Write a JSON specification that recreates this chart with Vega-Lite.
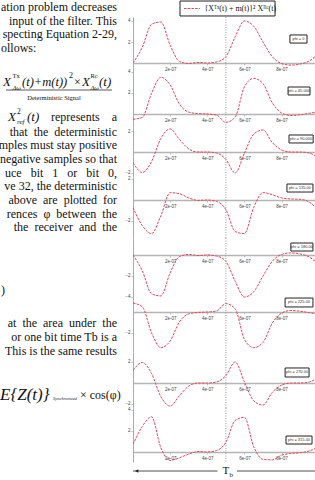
{
"$schema": "https://vega.github.io/schema/vega-lite/v6.json",
"padding": 0,
"bounds": "flush",
"spacing": 13,
"datasets": {
"curves": [
{"t":0,"p0":0,"p45":-0.5,"p90":-1.0,"p135":-0.71,"p180":0,"p225":0.85,"p270":1.2,"p315":0.71},
{"t":0.5,"p0":1.5,"p45":-0.32,"p90":-1.95,"p135":-2.44,"p180":-1.5,"p225":0.5,"p270":1.95,"p315":2.44},
{"t":1,"p0":3.7,"p45":1.98,"p90":-0.9,"p135":-3.2,"p180":-3.7,"p225":-1.98,"p270":0.9,"p315":3.35},
{"t":1.5,"p0":3.9,"p45":3.5,"p90":1.3,"p135":-1.5,"p180":-3.9,"p225":-3.4,"p270":-1.3,"p315":0.4},
{"t":2,"p0":1.7,"p45":2.76,"p90":2.2,"p135":0.7,"p180":-1.7,"p225":-2.76,"p270":-2.2,"p315":-0.8},
{"t":2.5,"p0":0.15,"p45":0.95,"p90":1.2,"p135":0.6,"p180":-0.15,"p225":-0.95,"p270":-1.2,"p315":-0.55},
{"t":3,"p0":-0.05,"p45":0.18,"p90":0.3,"p135":0.2,"p180":0.05,"p225":-0.18,"p270":-0.3,"p315":-0.2},
{"t":3.5,"p0":0.05,"p45":0.04,"p90":0,"p135":-0.04,"p180":-0.05,"p225":-0.04,"p270":0,"p315":0.04},
{"t":4,"p0":0,"p45":0,"p90":0,"p135":0,"p180":0,"p225":0,"p270":0,"p315":0},
{"t":4.5,"p0":0.1,"p45":-0.1,"p90":-0.1,"p135":-0.14,"p180":-0.1,"p225":0.1,"p270":0.1,"p315":0.14},
{"t":5,"p0":0.6,"p45":-0.8,"p90":-0.7,"p135":-0.92,"p180":-0.6,"p225":0.8,"p270":0.7,"p315":0.92},
{"t":5.5,"p0":2.5,"p45":-0.3,"p90":-2.0,"p135":-3.0,"p180":-2.5,"p225":0.3,"p270":2.0,"p315":3.0},
{"t":6,"p0":4.0,"p45":2.6,"p90":-0.1,"p135":-3.2,"p180":-4.0,"p225":-2.6,"p270":0.1,"p315":3.3},
{"t":6.5,"p0":3.5,"p45":3.4,"p90":1.7,"p135":-0.7,"p180":-3.5,"p225":-3.4,"p270":-1.7,"p315":0.5},
{"t":7,"p0":2.0,"p45":2.9,"p90":2.1,"p135":0.7,"p180":-2.0,"p225":-2.9,"p270":-2.1,"p315":-0.7},
{"t":7.5,"p0":0.6,"p45":1.06,"p90":0.9,"p135":0.5,"p180":-0.6,"p225":-1.06,"p270":-0.9,"p315":-0.75},
{"t":8,"p0":-0.05,"p45":0.1,"p90":0.2,"p135":0.2,"p180":0.05,"p225":-0.1,"p270":-0.2,"p315":-0.3},
{"t":8.5,"p0":-0.2,"p45":-0.14,"p90":0,"p135":0.1,"p180":0.2,"p225":0.14,"p270":0,"p315":-0.14},
{"t":9,"p0":-0.1,"p45":-0.07,"p90":0,"p135":0.07,"p180":0.1,"p225":0.07,"p270":0,"p315":-0.07},
{"t":9.5,"p0":0.2,"p45":0.07,"p90":-0.1,"p135":-0.21,"p180":-0.2,"p225":-0.07,"p270":0.1,"p315":0.1},
{"t":10,"p0":0.9,"p45":0.21,"p90":-0.6,"p135":-1.0,"p180":-0.9,"p225":-0.21,"p270":0.6,"p315":0.5}
]
},
"config": {
"view": {"stroke": null},
"text": {"font": "Liberation Serif", "baseline": "middle", "align": "left", "color": "#111"},
"axis": {"grid": false, "labelFont": "Liberation Sans", "labelFontSize": 4.5, "labelColor": "#444", "tickSize": 2, "tickColor": "#999", "tickWidth": 0.6, "domainColor": "#aaa", "domainWidth": 1, "labelPadding": 1}
},
"hconcat": [
{
"width": 120, "height": 480,
"layer": [
{"data": {"values": [
{"l":0.5,"s":"ation problem decreases"},
{"l":1.5,"s":"input of the filter. This"},
{"l":2.5,"s":"specting Equation 2-29,"},
{"l":8.54,"s":"represents\u00a0\u00a0\u00a0 a"},
{"l":9.6,"s":"that\u00a0 the\u00a0 deterministic"},
{"l":10.6,"s":"mples must stay positive"},
{"l":11.6,"s":"negative samples so that"},
{"l":12.6,"s":"uce\u2002 bit\u2002 1\u2002 or\u2002 bit\u2002 0,"},
{"l":13.6,"s":"ve 32, the deterministic"},
{"l":14.6,"s":"above\u00a0 are\u00a0 plotted\u00a0 for"},
{"l":15.6,"s":"rences\u00a0 \u03c6\u00a0 between\u00a0 the"},
{"l":16.6,"s":"the\u00a0 receiver\u00a0 and\u00a0 the"},
{"l":23.6,"s":"at\u00a0 the\u00a0 area\u00a0 under\u00a0 the"},
{"l":24.6,"s":"or one bit time Tb is a"},
{"l":25.6,"s":"This is the same results"}
]},
"mark": {"type": "text", "align": "right", "fontSize": 12, "clip": true},
"encoding": {
"x": {"datum": 117, "scale": {"domain": [0, 120], "nice": false, "zero": false}, "axis": null},
"y": {"field": "l", "type": "quantitative", "scale": {"domain": [0, 35.04], "reverse": true, "nice": false, "zero": false}, "axis": null},
"text": {"field": "s"}
}},
{"data": {"values": [{"l":3.5,"s":"ollows:"},{"l":21.2,"s":")"}]},
"mark": {"type": "text", "fontSize": 12, "clip": true},
"encoding": {"x": {"datum": 1, "axis": null}, "y": {"field": "l", "type": "quantitative", "axis": null}, "text": {"field": "s"}}},
{"data": {"values": [{}]}, "mark": {"type": "text", "text": "X", "fontSize": 13, "fontStyle": "italic"}, "encoding": {"x": {"datum": 3, "axis": null}, "y": {"datum": 6.0, "axis": null}}},
{"data": {"values": [{}]}, "mark": {"type": "text", "text": "Tx", "fontSize": 6.5}, "encoding": {"x": {"datum": 12.5, "axis": null}, "y": {"datum": 5.55, "axis": null}}},
{"data": {"values": [{}]}, "mark": {"type": "text", "text": "\u0394\u03c9", "fontSize": 6.5, "fontStyle": "italic"}, "encoding": {"x": {"datum": 12.5, "axis": null}, "y": {"datum": 6.4, "axis": null}}},
{"data": {"values": [{}]}, "mark": {"type": "text", "text": "(t)+m(t))", "fontSize": 12.5, "fontStyle": "italic"}, "encoding": {"x": {"datum": 22, "axis": null}, "y": {"datum": 6.0, "axis": null}}},
{"data": {"values": [{}]}, "mark": {"type": "text", "text": "2", "fontSize": 8}, "encoding": {"x": {"datum": 69, "axis": null}, "y": {"datum": 5.55, "axis": null}}},
{"data": {"values": [{}]}, "mark": {"type": "text", "text": "\u00d7", "fontSize": 12}, "encoding": {"x": {"datum": 74, "axis": null}, "y": {"datum": 6.0, "axis": null}}},
{"data": {"values": [{}]}, "mark": {"type": "text", "text": "X", "fontSize": 13, "fontStyle": "italic"}, "encoding": {"x": {"datum": 82, "axis": null}, "y": {"datum": 6.0, "axis": null}}},
{"data": {"values": [{}]}, "mark": {"type": "text", "text": "Rc", "fontSize": 6.5}, "encoding": {"x": {"datum": 90.5, "axis": null}, "y": {"datum": 5.55, "axis": null}}},
{"data": {"values": [{}]}, "mark": {"type": "text", "text": "\u0394\u03c9", "fontSize": 6.5, "fontStyle": "italic"}, "encoding": {"x": {"datum": 90.5, "axis": null}, "y": {"datum": 6.4, "axis": null}}},
{"data": {"values": [{}]}, "mark": {"type": "text", "text": "(t)", "fontSize": 13, "fontStyle": "italic"}, "encoding": {"x": {"datum": 99, "axis": null}, "y": {"datum": 6.0, "axis": null}}},
{"data": {"values": [{}]}, "mark": {"type": "rule", "color": "#111", "strokeWidth": 0.7}, "encoding": {"x": {"datum": 6, "axis": null}, "x2": {"datum": 112}, "y": {"datum": 6.57, "axis": null}}},
{"data": {"values": [{}]}, "mark": {"type": "text", "text": "Deterministic Signal", "fontSize": 6.5, "align": "center"}, "encoding": {"x": {"datum": 54, "axis": null}, "y": {"datum": 7.15, "axis": null}}},
{"data": {"values": [{}]}, "mark": {"type": "text", "text": "X", "fontSize": 13, "fontStyle": "italic"}, "encoding": {"x": {"datum": 8, "axis": null}, "y": {"datum": 8.54, "axis": null}}},
{"data": {"values": [{}]}, "mark": {"type": "text", "text": "2", "fontSize": 7.5}, "encoding": {"x": {"datum": 17, "axis": null}, "y": {"datum": 8.2, "axis": null}}},
{"data": {"values": [{}]}, "mark": {"type": "text", "text": "ref", "fontSize": 7, "fontStyle": "italic"}, "encoding": {"x": {"datum": 17, "axis": null}, "y": {"datum": 8.9, "axis": null}}},
{"data": {"values": [{}]}, "mark": {"type": "text", "text": "(t)", "fontSize": 13, "fontStyle": "italic"}, "encoding": {"x": {"datum": 27, "axis": null}, "y": {"datum": 8.54, "axis": null}}},
{"data": {"values": [{}]}, "mark": {"type": "text", "text": "E{Z(t)}", "fontSize": 17, "fontStyle": "italic"}, "encoding": {"x": {"datum": 0, "axis": null}, "y": {"datum": 28.8, "axis": null}}},
{"data": {"values": [{}]}, "mark": {"type": "text", "text": "Synchronized", "fontSize": 4.5, "fontStyle": "italic"}, "encoding": {"x": {"datum": 53, "axis": null}, "y": {"datum": 29.15, "axis": null}}},
{"data": {"values": [{}]}, "mark": {"type": "text", "text": "\u00d7 cos(\u03c6)", "fontSize": 12}, "encoding": {"x": {"datum": 80, "axis": null}, "y": {"datum": 28.8, "axis": null}}}
]
},
{
"spacing": 0,
"bounds": "flush",
"vconcat": [
{"width": 182, "height": 17, "layer": [
{"data": {"values": [{}]}, "mark": {"type": "rect", "fill": "#fff", "stroke": "#222", "strokeWidth": 1}, "encoding": {"x": {"datum": 2.53, "scale": {"domain": [0, 9.8], "nice": false, "zero": false}, "axis": null}, "x2": {"datum": 7.65}, "y": {"datum": 0.06, "scale": {"domain": [0, 1], "nice": false, "zero": false}, "axis": null}, "y2": {"datum": 0.94}}},
{"data": {"values": [{}]}, "mark": {"type": "rule", "color": "#e8435a", "strokeDash": [2.5, 1.2], "strokeWidth": 1}, "encoding": {"x": {"datum": 2.75, "axis": null}, "x2": {"datum": 3.6}, "y": {"datum": 0.5, "axis": null}}},
{"data": {"values": [{}]}, "mark": {"type": "text", "text": "{X\u1d40\u02e3(t) + m(t)}\u00b2 X\u1d3f\u1d9c(t)", "fontSize": 8}, "encoding": {"x": {"datum": 3.85, "axis": null}, "y": {"datum": 0.5, "axis": null}}}
]},
{"width": 182, "height": 50, "layer": [
{"data": {"name": "curves"}, "mark": {"type": "line", "color": "#e8435a", "strokeWidth": 1, "strokeDash": [2.5, 1.2], "interpolate": "monotone", "clip": true},
"encoding": {"x": {"field": "t", "type": "quantitative", "scale": {"domain": [0, 9.8], "nice": false, "zero": false}, "axis": {"title": null, "offset": -4, "values": [2, 4, 6, 8], "labelExpr": "datum.value + 'e-07'", "domainWidth": 1.5, "domainColor": "#b5b5b5"}},
"y": {"field": "p0", "type": "quantitative", "scale": {"domain": [-0.38, 4.38], "nice": false, "zero": false}, "axis": {"title": null, "values": [2, 4]}}}},
{"data": {"values": [{}]}, "mark": {"type": "rule", "color": "#888", "strokeDash": [1, 1.5], "strokeWidth": 0.8}, "encoding": {"x": {"datum": 5}}},
{"data": {"values": [{}]}, "mark": {"type": "rect", "fill": "#fff", "stroke": "#222", "strokeWidth": 1}, "encoding": {"x": {"datum": 8.45}, "x2": {"datum": 9.37}, "y": {"datum": 2.67}, "y2": {"datum": 1.9}}},
{"data": {"values": [{}]}, "mark": {"type": "text", "text": "phi = 0", "font": "Liberation Sans", "fontSize": 4, "align": "center", "color": "#333"}, "encoding": {"x": {"datum": 8.91}, "y": {"datum": 2.285}}}
]},
{"width": 182, "height": 60, "layer": [
{"data": {"name": "curves"}, "mark": {"type": "line", "color": "#e8435a", "strokeWidth": 1, "strokeDash": [2.5, 1.2], "interpolate": "monotone", "clip": true},
"encoding": {"x": {"field": "t", "type": "quantitative", "scale": {"domain": [0, 9.8], "nice": false, "zero": false}, "axis": {"title": null, "offset": -13, "values": [2, 4, 6, 8], "labelExpr": "datum.value + 'e-07'", "domainWidth": 1.5, "domainColor": "#b5b5b5"}},
"y": {"field": "p45", "type": "quantitative", "scale": {"domain": [-1.238, 4.476], "nice": false, "zero": false}, "axis": {"title": null, "values": [2, 4]}}}},
{"data": {"values": [{}]}, "mark": {"type": "rule", "color": "#888", "strokeDash": [1, 1.5], "strokeWidth": 0.8}, "encoding": {"x": {"datum": 5}}},
{"data": {"values": [{}]}, "mark": {"type": "rect", "fill": "#fff", "stroke": "#222", "strokeWidth": 1}, "encoding": {"x": {"datum": 8.35}, "x2": {"datum": 9.53}, "y": {"datum": 2.57}, "y2": {"datum": 1.81}}},
{"data": {"values": [{}]}, "mark": {"type": "text", "text": "phi = 45.000", "font": "Liberation Sans", "fontSize": 4, "align": "center", "color": "#333"}, "encoding": {"x": {"datum": 8.94}, "y": {"datum": 2.19}}}
]},
{"width": 182, "height": 50, "layer": [
{"data": {"name": "curves"}, "mark": {"type": "line", "color": "#e8435a", "strokeWidth": 1, "strokeDash": [2.5, 1.2], "interpolate": "monotone", "clip": true},
"encoding": {"x": {"field": "t", "type": "quantitative", "scale": {"domain": [0, 9.8], "nice": false, "zero": false}, "axis": {"title": null, "offset": -25, "values": [2, 4, 6, 8], "labelExpr": "datum.value + 'e-07'", "domainWidth": 1.5, "domainColor": "#b5b5b5"}},
"y": {"field": "p90", "type": "quantitative", "scale": {"domain": [-2.381, 2.381], "nice": false, "zero": false}, "axis": {"title": null, "values": [-2, 2]}}}},
{"data": {"values": [{}]}, "mark": {"type": "rule", "color": "#888", "strokeDash": [1, 1.5], "strokeWidth": 0.8}, "encoding": {"x": {"datum": 5}}},
{"data": {"values": [{}]}, "mark": {"type": "rect", "fill": "#fff", "stroke": "#222", "strokeWidth": 1}, "encoding": {"x": {"datum": 8.4}, "x2": {"datum": 9.7}, "y": {"datum": 1.62}, "y2": {"datum": 0.86}}},
{"data": {"values": [{}]}, "mark": {"type": "text", "text": "phi = 90.000", "font": "Liberation Sans", "fontSize": 4, "align": "center", "color": "#333"}, "encoding": {"x": {"datum": 9.05}, "y": {"datum": 1.24}}}
]},
{"width": 182, "height": 61, "layer": [
{"data": {"name": "curves"}, "mark": {"type": "line", "color": "#e8435a", "strokeWidth": 1, "strokeDash": [2.5, 1.2], "interpolate": "monotone", "clip": true},
"encoding": {"x": {"field": "t", "type": "quantitative", "scale": {"domain": [0, 9.8], "nice": false, "zero": false}, "axis": {"title": null, "offset": -38, "values": [2, 4, 6, 8], "labelExpr": "datum.value + 'e-07'", "domainWidth": 1.5, "domainColor": "#b5b5b5"}},
"y": {"field": "p135", "type": "quantitative", "scale": {"domain": [-3.619, 2.19], "nice": false, "zero": false}, "axis": {"title": null, "values": [-2, 2]}}}},
{"data": {"values": [{}]}, "mark": {"type": "rule", "color": "#888", "strokeDash": [1, 1.5], "strokeWidth": 0.8}, "encoding": {"x": {"datum": 5}}},
{"data": {"values": [{}]}, "mark": {"type": "rect", "fill": "#fff", "stroke": "#222", "strokeWidth": 1}, "encoding": {"x": {"datum": 8.29}, "x2": {"datum": 9.69}, "y": {"datum": 1.52}, "y2": {"datum": 0.76}}},
{"data": {"values": [{}]}, "mark": {"type": "text", "text": "phi = 135.00", "font": "Liberation Sans", "fontSize": 4, "align": "center", "color": "#333"}, "encoding": {"x": {"datum": 8.99}, "y": {"datum": 1.14}}}
]},
{"width": 182, "height": 62, "layer": [
{"data": {"name": "curves"}, "mark": {"type": "line", "color": "#e8435a", "strokeWidth": 1, "strokeDash": [2.5, 1.2], "interpolate": "monotone", "clip": true},
"encoding": {"x": {"field": "t", "type": "quantitative", "scale": {"domain": [0, 9.8], "nice": false, "zero": false}, "axis": {"title": null, "offset": -45, "values": [2, 4, 6, 8], "labelExpr": "datum.value + 'e-07'", "domainWidth": 1.5, "domainColor": "#b5b5b5"}},
"y": {"field": "p180", "type": "quantitative", "scale": {"domain": [-4.286, 1.619], "nice": false, "zero": false}, "axis": {"title": null, "values": [-4, -2]}}}},
{"data": {"values": [{}]}, "mark": {"type": "rule", "color": "#888", "strokeDash": [1, 1.5], "strokeWidth": 0.8}, "encoding": {"x": {"datum": 5}}},
{"data": {"values": [{}]}, "mark": {"type": "rect", "fill": "#fff", "stroke": "#222", "strokeWidth": 1}, "encoding": {"x": {"datum": 8.5}, "x2": {"datum": 9.69}, "y": {"datum": 1.14}, "y2": {"datum": 0.38}}},
{"data": {"values": [{}]}, "mark": {"type": "text", "text": "phi = 180.00", "font": "Liberation Sans", "fontSize": 4, "align": "center", "color": "#333"}, "encoding": {"x": {"datum": 9.095}, "y": {"datum": 0.76}}}
]},
{"width": 182, "height": 52, "layer": [
{"data": {"name": "curves"}, "mark": {"type": "line", "color": "#e8435a", "strokeWidth": 1, "strokeDash": [2.5, 1.2], "interpolate": "monotone", "clip": true},
"encoding": {"x": {"field": "t", "type": "quantitative", "scale": {"domain": [0, 9.8], "nice": false, "zero": false}, "axis": {"title": null, "offset": -40, "values": [2, 4, 6, 8], "labelExpr": "datum.value + 'e-07'", "domainWidth": 1.5, "domainColor": "#b5b5b5"}},
"y": {"field": "p225", "type": "quantitative", "scale": {"domain": [-3.81, 1.143], "nice": false, "zero": false}, "axis": {"title": null, "values": [-2]}}}},
{"data": {"values": [{}]}, "mark": {"type": "rule", "color": "#888", "strokeDash": [1, 1.5], "strokeWidth": 0.8}, "encoding": {"x": {"datum": 5}}},
{"data": {"values": [{}]}, "mark": {"type": "rect", "fill": "#fff", "stroke": "#222", "strokeWidth": 1}, "encoding": {"x": {"datum": 8.19}, "x2": {"datum": 9.69}, "y": {"datum": 1.33}, "y2": {"datum": 0.48}}},
{"data": {"values": [{}]}, "mark": {"type": "text", "text": "phi = 225.00", "font": "Liberation Sans", "fontSize": 4, "align": "center", "color": "#333"}, "encoding": {"x": {"datum": 8.94}, "y": {"datum": 0.905}}}
]},
{"width": 182, "height": 56, "layer": [
{"data": {"name": "curves"}, "mark": {"type": "line", "color": "#e8435a", "strokeWidth": 1, "strokeDash": [2.5, 1.2], "interpolate": "monotone", "clip": true},
"encoding": {"x": {"field": "t", "type": "quantitative", "scale": {"domain": [0, 9.8], "nice": false, "zero": false}, "axis": {"title": null, "offset": -25, "values": [2, 4, 6, 8], "labelExpr": "datum.value + 'e-07'", "domainWidth": 1.5, "domainColor": "#b5b5b5"}},
"y": {"field": "p270", "type": "quantitative", "scale": {"domain": [-2.381, 2.952], "nice": false, "zero": false}, "axis": {"title": null, "values": [-2, 2]}}}},
{"data": {"values": [{}]}, "mark": {"type": "rule", "color": "#888", "strokeDash": [1, 1.5], "strokeWidth": 0.8}, "encoding": {"x": {"datum": 5}}},
{"data": {"values": [{}]}, "mark": {"type": "rect", "fill": "#fff", "stroke": "#222", "strokeWidth": 1}, "encoding": {"x": {"datum": 8.19}, "x2": {"datum": 9.48}, "y": {"datum": 1.43}, "y2": {"datum": 0.57}}},
{"data": {"values": [{}]}, "mark": {"type": "text", "text": "phi = 270.00", "font": "Liberation Sans", "fontSize": 4, "align": "center", "color": "#333"}, "encoding": {"x": {"datum": 8.835}, "y": {"datum": 1.0}}}
]},
{"width": 182, "height": 54, "layer": [
{"data": {"name": "curves"}, "mark": {"type": "line", "color": "#e8435a", "strokeWidth": 1, "strokeDash": [2.5, 1.2], "interpolate": "monotone", "clip": true},
"encoding": {"x": {"field": "t", "type": "quantitative", "scale": {"domain": [0, 9.8], "nice": false, "zero": false}, "axis": {"title": null, "offset": -10, "values": [2, 4, 6, 8], "labelExpr": "datum.value + 'e-07'", "domainWidth": 1.5, "domainColor": "#b5b5b5"}},
"y": {"field": "p315", "type": "quantitative", "scale": {"domain": [-0.952, 4.19], "nice": false, "zero": false}, "axis": {"title": null, "values": [2, 4]}}}},
{"data": {"values": [{}]}, "mark": {"type": "rule", "color": "#888", "strokeDash": [1, 1.5], "strokeWidth": 0.8}, "encoding": {"x": {"datum": 5}}},
{"data": {"values": [{}]}, "mark": {"type": "rect", "fill": "#fff", "stroke": "#222", "strokeWidth": 1}, "encoding": {"x": {"datum": 8.24}, "x2": {"datum": 9.64}, "y": {"datum": 1.52}, "y2": {"datum": 0.76}}},
{"data": {"values": [{}]}, "mark": {"type": "text", "text": "phi = 315.00", "font": "Liberation Sans", "fontSize": 4, "align": "center", "color": "#333"}, "encoding": {"x": {"datum": 8.94}, "y": {"datum": 1.14}}}
]},
{"width": 182, "height": 18, "layer": [
{"data": {"values": [{}]}, "mark": {"type": "rule", "color": "#222", "strokeWidth": 0.8}, "encoding": {"x": {"datum": 0, "scale": {"domain": [0, 9.8], "nice": false, "zero": false}, "axis": null}, "x2": {"datum": 4.55}, "y": {"datum": 0.5, "scale": {"domain": [0, 1], "nice": false, "zero": false}, "axis": null}}},
{"data": {"values": [{}]}, "mark": {"type": "rule", "color": "#222", "strokeWidth": 0.8}, "encoding": {"x": {"datum": 5.6, "axis": null}, "x2": {"datum": 9.8}, "y": {"datum": 0.5, "axis": null}}},
{"data": {"values": [{}]}, "mark": {"type": "point", "shape": "triangle-left", "filled": true, "color": "#222", "size": 14, "opacity": 1}, "encoding": {"x": {"datum": 0.2, "axis": null}, "y": {"datum": 0.5, "axis": null}}},
{"data": {"values": [{}]}, "mark": {"type": "text", "text": "T", "fontSize": 11, "align": "center"}, "encoding": {"x": {"datum": 5.0, "axis": null}, "y": {"datum": 0.5, "axis": null}}},
{"data": {"values": [{}]}, "mark": {"type": "text", "text": "b", "fontSize": 7}, "encoding": {"x": {"datum": 5.2, "axis": null}, "y": {"datum": 0.3, "axis": null}}}
]}
]
}
]
}
